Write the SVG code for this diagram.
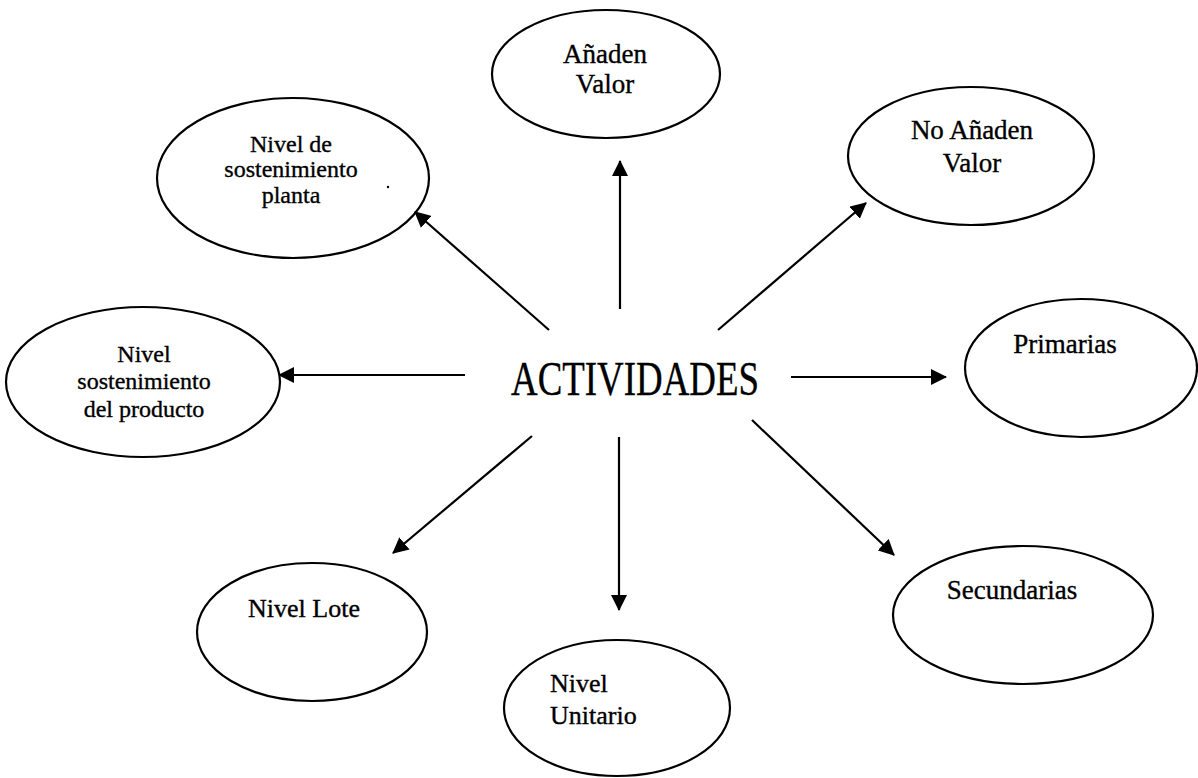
<svg xmlns="http://www.w3.org/2000/svg" width="1198" height="778" viewBox="0 0 1198 778">
  <style>
    .node ellipse { fill: #ffffff; stroke: #000000; stroke-width: 2.2; }
    .label { font-family: "Liberation Serif", "Times New Roman", serif; fill: #000000; stroke: #000000; stroke-width: 0.35; text-anchor: middle; }
    .left { text-anchor: start; }
    .s27 { font-size: 27px; }
    .s26 { font-size: 26px; }
    .s24 { font-size: 24px; }
    .connectors line { stroke: #000000; stroke-width: 2.2; marker-end: url(#arrow); }
  </style>
  <defs>
    <marker id="arrow" markerUnits="userSpaceOnUse" markerWidth="16" markerHeight="16" viewBox="0 0 16 16" refX="15" refY="8" orient="auto">
      <path d="M0,0 L16,8 L0,16 Z" fill="#000000"/>
    </marker>
  </defs>
  <rect width="1198" height="778" fill="#ffffff"/>

  <!-- central term -->
  <g id="actividades">
    <text class="label" x="635" y="395" font-size="48" textLength="248" lengthAdjust="spacingAndGlyphs">ACTIVIDADES</text>
  </g>

  <g id="anaden-valor" class="node">
    <ellipse cx="606" cy="74" rx="114" ry="64"/>
    <text class="label s27" x="605" y="63">Añaden</text>
    <text class="label s27" x="605" y="93">Valor</text>
  </g>

  <g id="nivel-sostenimiento-planta" class="node">
    <ellipse cx="293" cy="178" rx="136" ry="80"/>
    <text class="label s24" x="291" y="152">Nivel de</text>
    <text class="label s24" x="291" y="177">sostenimiento</text>
    <text class="label s24" x="291" y="203">planta</text>
    <circle cx="388" cy="187" r="1.2" fill="#000000"/>
  </g>

  <g id="no-anaden-valor" class="node">
    <ellipse cx="971" cy="156" rx="123" ry="69"/>
    <text class="label s27" x="972" y="139">No Añaden</text>
    <text class="label s27" x="972" y="172">Valor</text>
  </g>

  <g id="nivel-sostenimiento-producto" class="node">
    <ellipse cx="143" cy="382" rx="137" ry="75"/>
    <text class="label s24" x="144" y="362">Nivel</text>
    <text class="label s24" x="144" y="389">sostenimiento</text>
    <text class="label s24" x="144" y="417">del producto</text>
  </g>

  <g id="primarias" class="node">
    <ellipse cx="1081" cy="368" rx="116" ry="69"/>
    <text class="label s27" x="1065" y="353">Primarias</text>
  </g>

  <g id="nivel-lote" class="node">
    <ellipse cx="312" cy="632" rx="115" ry="69"/>
    <text class="label s26" x="304" y="617">Nivel Lote</text>
  </g>

  <g id="nivel-unitario" class="node">
    <ellipse cx="617" cy="708" rx="113" ry="68"/>
    <text class="label left s26" x="550" y="692">Nivel</text>
    <text class="label left s26" x="550" y="724">Unitario</text>
  </g>

  <g id="secundarias" class="node">
    <ellipse cx="1023" cy="615" rx="130" ry="69"/>
    <text class="label s27" x="1012" y="599">Secundarias</text>
  </g>

  <!-- arrows radiating from the central term -->
  <g id="connectors" class="connectors">
    <line x1="620" y1="309" x2="620" y2="161"/>
    <line x1="549" y1="330" x2="415" y2="212"/>
    <line x1="718" y1="330" x2="866" y2="203"/>
    <line x1="465" y1="375" x2="279" y2="375"/>
    <line x1="791" y1="377" x2="946" y2="377"/>
    <line x1="532" y1="436" x2="393" y2="553"/>
    <line x1="619" y1="437" x2="619" y2="610"/>
    <line x1="752" y1="420" x2="894" y2="555"/>
  </g>
</svg>
